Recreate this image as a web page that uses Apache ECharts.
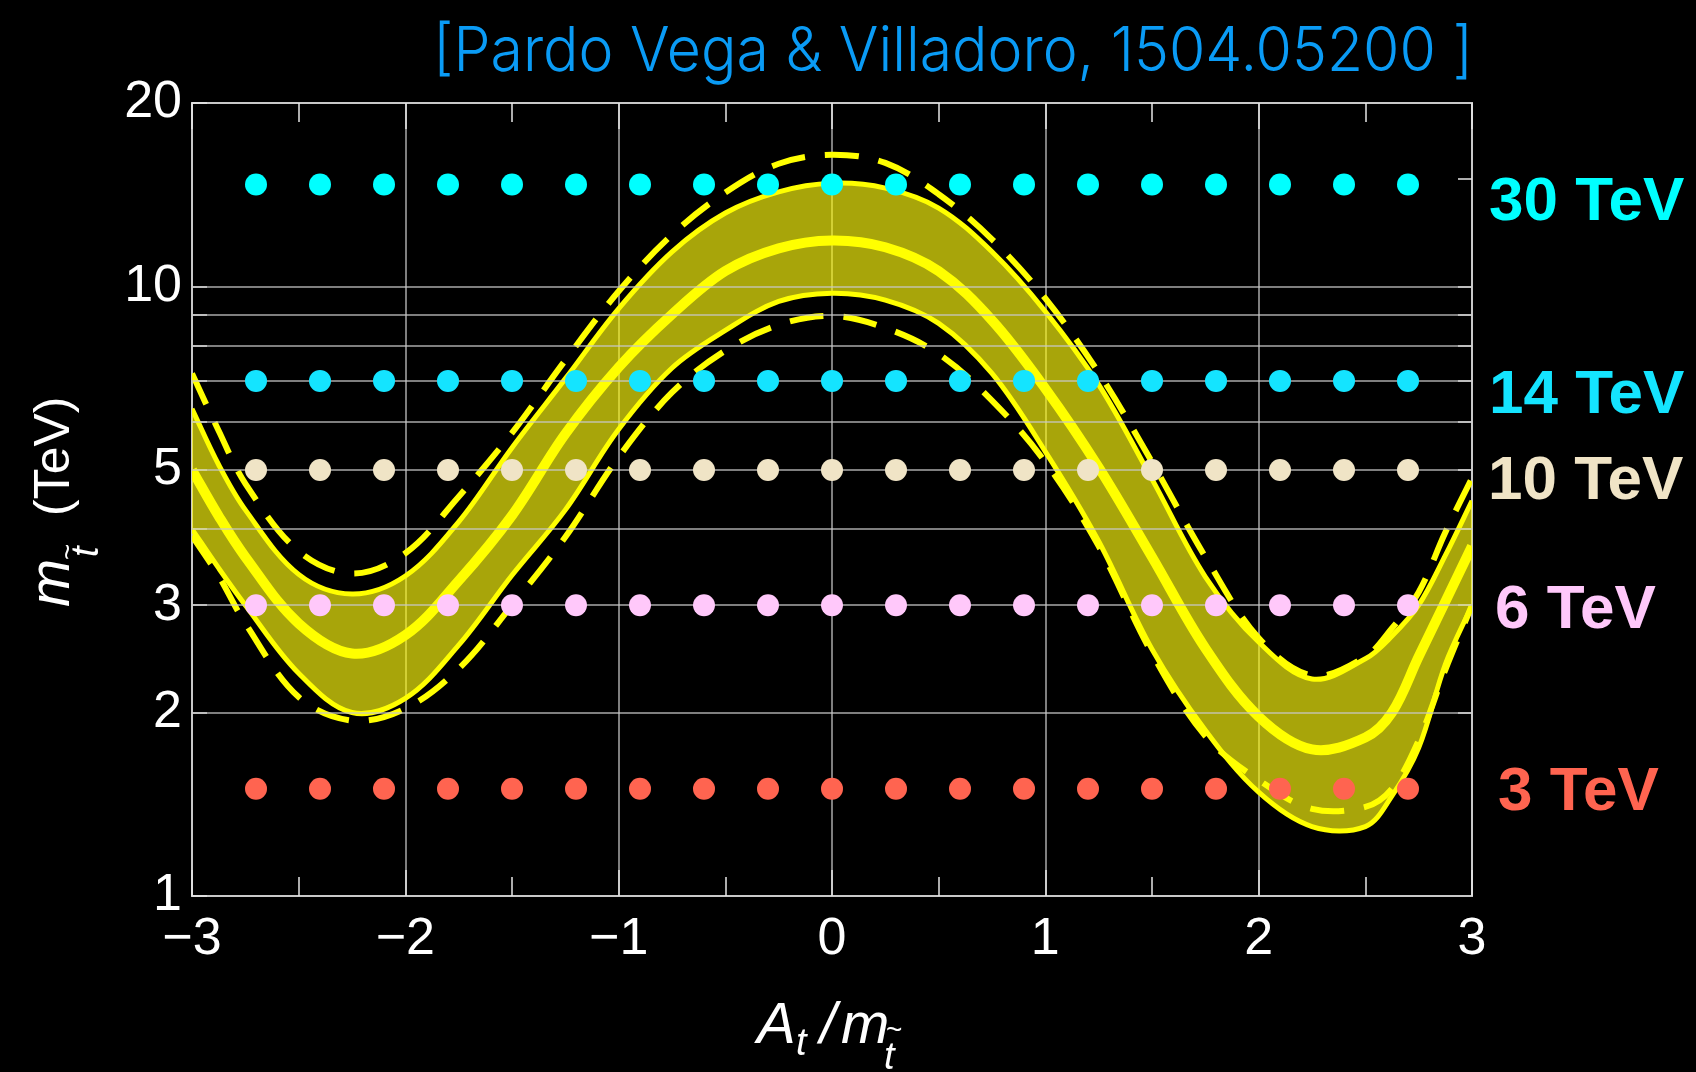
<!DOCTYPE html>
<html>
<head>
<meta charset="utf-8">
<script src="https://cdn.jsdelivr.net/npm/echarts@6/dist/echarts.min.js"></script>
<style>
html,body{margin:0;padding:0;background:#000;}
#chart{width:1696px;height:1072px;}
</style>
</head>
<body>
<div id="chart"></div>
<script>
// ---------------- data ----------------
const xs = [-3, -2.875, -2.75, -2.5, -2.25, -2, -1.75, -1.5, -1.25, -1, -0.75, -0.5, -0.25, 0,
            0.25, 0.5, 0.75, 1, 1.25, 1.5, 1.75, 2, 2.25, 2.5, 2.625, 2.75, 2.875, 3];
const centerLine  = [5.0, 4.2, 3.6, 2.8, 2.5, 2.68, 3.29, 4.21, 5.73, 7.37, 9.0, 10.6, 11.55, 11.9,
                     11.6, 10.6, 8.8, 6.8, 5.05, 3.6, 2.55, 1.97, 1.74, 1.82, 2.0, 2.47, 3.04, 3.75];
const upperSolid  = [6.3, 5.1, 4.3, 3.37, 3.13, 3.35, 4.11, 5.44, 7.06, 9.2, 11.4, 13.2, 14.3, 14.77,
                     14.5, 13.45, 11.4, 9.1, 6.9, 4.83, 3.34, 2.61, 2.27, 2.45, 2.67, 3.0, 3.62, 4.45];
const lowerSolid  = [4.0, 3.45, 3.0, 2.32, 2.0, 2.11, 2.58, 3.36, 4.3, 5.83, 7.35, 8.47, 9.45, 9.75,
                     9.5, 8.7, 7.2, 5.36, 3.82, 2.54, 1.87, 1.48, 1.3, 1.3, 1.46, 1.75, 2.4, 3.0];
const upperDashed = [7.2, 5.8, 4.75, 3.68, 3.38, 3.65, 4.52, 5.75, 7.57, 9.82, 12.16, 14.26, 15.9, 16.45,
                     15.95, 14.17, 11.95, 9.56, 7.22, 5.15, 3.6, 2.65, 2.3, 2.47, 2.75, 3.15, 3.95, 4.85];
const lowerDashed = [3.9, 3.35, 2.8, 2.12, 1.94, 2.03, 2.36, 3.0, 3.88, 5.25, 6.7, 7.85, 8.65, 8.95,
                     8.55, 7.75, 6.5, 5.15, 3.75, 2.5, 1.83, 1.55, 1.39, 1.4, 1.5, 1.8, 2.35, 3.0];

const dotX = [-2.7, -2.4, -2.1, -1.8, -1.5, -1.2, -0.9, -0.6, -0.3, 0, 0.3, 0.6, 0.9, 1.2, 1.5, 1.8, 2.1, 2.4, 2.7];
const levelValues = [14.7, 7, 5, 3, 1.5];
const levelNames  = ['30 TeV', '14 TeV', '10 TeV', '6 TeV', '3 TeV'];

const yLabelValues = [1, 2, 3, 5, 10, 20];
const yGridValues  = [2, 3, 4, 5, 6, 7, 8, 9, 10];
const yRightTicks  = [2, 3, 4, 5, 6, 7, 8, 9, 10, 15];

const titleText = '[Pardo Vega & Villadoro, 1504.05200 ]';

// ---------------- styles ----------------
const levelColors = ['#00FFFF', '#14E4FF', '#F0E4C6', '#FFC8FA', '#FF6450'];
const labelPos = [[1489, 203], [1489, 396], [1488, 482], [1495, 611], [1498, 793]];
const SMOOTH = 0.35;
const YELLOW = '#FFFF00';
const GRID_COLOR = 'rgba(200,200,200,0.85)';
const TICK_COLOR = '#e6e6e6';
const FONT = '"Liberation Sans", Arial, Helvetica, sans-serif';

function dupEnds(p) { return [p[0]].concat(p, [p[p.length - 1]]); }

function curveSeries(vals, style, z) {
  return {
    type: 'custom', coordinateSystem: 'cartesian2d', clip: true, silent: true, z: z,
    data: [[0, 1]],
    renderItem: function (params, api) {
      const pts = xs.map((x, i) => api.coord([x, vals[i]]));
      return {
        type: 'polyline',
        shape: { points: dupEnds(pts), smooth: SMOOTH },
        style: Object.assign({ fill: null, stroke: YELLOW, lineCap: 'butt', lineJoin: 'round' }, style)
      };
    }
  };
}

const bandSeries = {
  type: 'custom', coordinateSystem: 'cartesian2d', clip: true, silent: true, z: 2,
  data: [[0, 1]],
  renderItem: function (params, api) {
    const up = xs.map((x, i) => api.coord([x, upperSolid[i]]));
    const lo = xs.map((x, i) => api.coord([x, lowerSolid[i]])).reverse();
    const pts = up.concat([up[up.length - 1], lo[0]], lo, [lo[lo.length - 1], up[0]]);
    return {
      type: 'polygon',
      shape: { points: pts, smooth: SMOOTH },
      style: { fill: 'rgba(255,250,15,0.66)', stroke: null }
    };
  }
};

const gridLineSeries = {
  type: 'line', data: [[0, 1]], showSymbol: false, silent: true, z: 1,
  lineStyle: { opacity: 0 },
  markLine: {
    silent: true, symbol: 'none', label: { show: false }, animation: false,
    lineStyle: { color: GRID_COLOR, width: 1.5, type: 'solid' },
    data: yGridValues.map(v => ({ yAxis: v }))
  }
};

const dotSeries = levelValues.map((v, k) => ({
  type: 'scatter', z: 6, silent: true,
  symbol: 'circle', symbolSize: 22,
  itemStyle: { color: levelColors[k], opacity: 1 },
  data: dotX.map(x => [x, v])
}));

// ---------------- graphics (texts) ----------------
function measure(font, text) {
  const c = document.createElement('canvas').getContext('2d');
  c.font = font;
  return c.measureText(text).width;
}
const titleFont = '300 62px Inter, Roboto, "Liberation Sans", sans-serif';
const titleW = measure(titleFont, titleText);
const titleScale = 1040 / titleW;

const graphics = [];
graphics.push({
  type: 'text', x: 433, y: 52, scaleX: titleScale, silent: true,
  style: { text: titleText, x: 0, y: 0, fill: '#0A9BF5', font: titleFont, align: 'left', verticalAlign: 'middle' }
});
levelNames.forEach((t, k) => {
  graphics.push({
    type: 'text', x: labelPos[k][0], y: labelPos[k][1], silent: true,
    style: { text: t, fill: levelColors[k], font: 'bold 62px ' + FONT, align: 'left', verticalAlign: 'middle' }
  });
});
function txt(text, x, y, font) {
  return { type: 'text', x: x, y: y, silent: true,
           style: { text: text, fill: '#fff', font: font, align: 'left', verticalAlign: 'middle' } };
}
// x-axis title  A_t / m_t~
graphics.push(txt('A', 757, 1027, 'italic 58px ' + FONT));
graphics.push(txt('t', 796, 1044, 'italic 38px ' + FONT));
graphics.push(txt('/', 820, 1027, 'italic 58px ' + FONT));
graphics.push(txt('m', 841, 1027, 'italic 58px ' + FONT));
graphics.push(txt('~', 886, 1031, '28px ' + FONT));
graphics.push(txt('t', 884, 1058, 'italic 38px ' + FONT));
// y-axis title  m_t~ (TeV), rotated
graphics.push({
  type: 'group', x: 73, y: 607, rotation: Math.PI / 2, silent: true,
  children: [
    txt('m', 0, -20, 'italic 58px ' + FONT),
    txt('~', 47, -4, '28px ' + FONT),
    txt('t', 50, 14, 'italic 38px ' + FONT),
    txt('(TeV)', 91, -17.3, '50px ' + FONT)
  ]
});

// ---------------- chart ----------------
const chart = echarts.init(document.getElementById('chart'), null, { renderer: 'canvas' });
const minus = v => (v < 0 ? '\u2212' + Math.abs(v) : String(v));

chart.setOption({
  backgroundColor: '#000',
  animation: false,
  grid: { left: 192, right: 224, top: 103, bottom: 176, show: true,
          borderColor: '#c8c8c8', borderWidth: 2, backgroundColor: 'transparent' },
  xAxis: [{
    type: 'value', min: -3, max: 3, interval: 1, position: 'bottom',
    axisLine: { show: true, onZero: false, lineStyle: { color: '#c8c8c8', width: 2 } },
    axisTick: { show: true, inside: true, length: 26, lineStyle: { color: TICK_COLOR, width: 1.5 } },
    minorTick: { show: true, splitNumber: 2, length: 19, lineStyle: { color: TICK_COLOR, width: 1.5 } },
    axisLabel: { color: '#fff', fontSize: 52, fontFamily: FONT, margin: 18, formatter: minus },
    splitLine: { show: true, lineStyle: { color: GRID_COLOR, width: 1.5 } },
    minorSplitLine: { show: false }
  }, {
    type: 'value', min: -3, max: 3, interval: 1, position: 'top',
    axisLine: { show: true, onZero: false, lineStyle: { color: '#c8c8c8', width: 2 } },
    axisTick: { show: true, inside: true, length: 26, lineStyle: { color: TICK_COLOR, width: 1.5 } },
    minorTick: { show: true, splitNumber: 2, length: 19, lineStyle: { color: TICK_COLOR, width: 1.5 } },
    axisLabel: { show: false },
    splitLine: { show: false }
  }],
  yAxis: [{
    type: 'log', logBase: 10, min: 1, max: 20, position: 'left',
    axisLine: { show: true, onZero: false, lineStyle: { color: '#c8c8c8', width: 2 } },
    axisTick: { show: true, inside: true, length: 15, customValues: yGridValues.concat([1, 20]),
                lineStyle: { color: TICK_COLOR, width: 1.5 } },
    axisLabel: { show: true, customValues: yLabelValues, color: '#fff', fontSize: 52, fontFamily: FONT,
                 margin: 10, formatter: v => String(Math.round(v)) },
    splitLine: { show: false },
    minorTick: { show: false }
  }, {
    type: 'log', logBase: 10, min: 1, max: 20, position: 'right',
    axisLine: { show: true, onZero: false, lineStyle: { color: '#c8c8c8', width: 2 } },
    axisTick: { show: true, inside: true, length: 14, customValues: yRightTicks,
                lineStyle: { color: TICK_COLOR, width: 1.5 } },
    axisLabel: { show: false },
    splitLine: { show: false }
  }],
  graphic: graphics,
  series: [
    gridLineSeries,
    bandSeries,
    curveSeries(upperDashed, { lineWidth: 6, lineDash: [34, 20] }, 3),
    curveSeries(lowerDashed, { lineWidth: 6, lineDash: [34, 20] }, 3),
    curveSeries(upperSolid, { lineWidth: 5 }, 4),
    curveSeries(lowerSolid, { lineWidth: 5 }, 4),
    curveSeries(centerLine, { lineWidth: 10 }, 4)
  ].concat(dotSeries)
});
</script>
</body>
</html>
